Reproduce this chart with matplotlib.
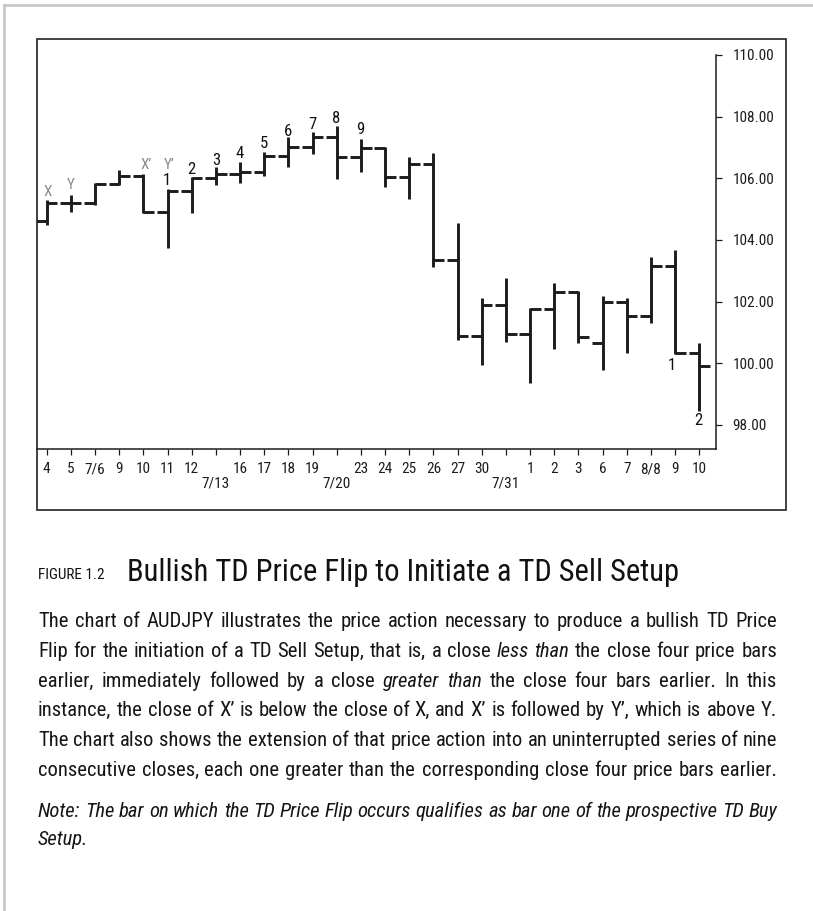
import matplotlib
matplotlib.use("Agg")
import matplotlib.pyplot as plt
from matplotlib import font_manager as fm
from matplotlib.lines import Line2D
from matplotlib.patches import Rectangle
import numpy as np

# ---------------- data ----------------
dates = ["4", "5", "7/6", "9", "10", "11", "12", "7/13", "16", "17", "18", "19",
         "7/20", "23", "24", "25", "26", "27", "30", "7/31", "1", "2", "3", "6",
         "7", "8/8", "9", "10"]
lower_row = ["7/13", "7/20", "7/31"]

opens = [104.60, 105.19, 105.19, 105.82, 106.09, 104.92, 105.60, 106.00, 106.14,
         106.21, 106.72, 107.03, 107.33, 106.70, 106.97, 106.03, 106.45, 103.35,
         100.88, 101.89, 100.95, 101.75, 102.32, 100.67, 102.00, 101.53, 103.16,
         100.34]
highs = [105.30, 105.46, 105.84, 106.27, 106.14, 105.64, 106.05, 106.38, 106.54,
         106.86, 107.33, 107.51, 107.70, 107.27, 107.01, 106.70, 106.81, 104.56,
         102.11, 102.76, 101.78, 102.59, 102.36, 102.18, 102.11, 103.44, 103.68,
         100.67]
lows = [104.49, 104.92, 105.13, 105.78, 104.89, 103.73, 104.89, 105.78, 105.86,
        106.09, 106.36, 106.79, 105.97, 106.22, 105.71, 105.32, 103.11, 100.76,
        99.94, 100.70, 99.37, 100.45, 100.65, 99.78, 100.34, 101.30, 100.30,
        98.46]
closes = [105.19, 105.19, 105.82, 106.09, 104.92, 105.60, 106.02, 106.14, 106.21,
          106.72, 107.03, 107.33, 106.70, 106.97, 106.03, 106.45, 103.35, 100.88,
          101.89, 100.95, 101.75, 102.32, 100.86, 102.00, 101.53, 103.16, 100.34,
          99.91]

yticks = [98, 100, 102, 104, 106, 108, 110]

ann_text = ["X", "Y", "X’", "Y’", "1", "2", "3", "4", "5", "6", "7", "8", "9", "1", "2"]
ann_x = [0.04, 1.0, 4.1, 5.07, 4.96, 6.0, 7.0, 7.97, 8.99, 10.0, 11.0, 11.97, 12.99, 25.86, 26.96]
ann_y = [105.57, 105.78, 106.43, 106.43, 105.92, 106.27, 106.59, 106.79, 107.14,
         107.51, 107.75, 107.95, 107.57, 99.93, 98.16]
ann_gray = [True, True, True, True] + [False] * 11

fig_label = "FIGURE 1.2"
fig_title = "Bullish TD Price Flip to Initiate a TD Sell Setup"
body_lines = [
    "The chart of AUDJPY illustrates the price action necessary to produce a bullish TD Price",
    "Flip for the initiation of a TD Sell Setup, that is, a close _less _than the close four price bars",
    "earlier, immediately followed by a close _greater _than the close four bars earlier. In this",
    "instance, the close of X’ is below the close of X, and X’ is followed by Y’, which is above Y.",
    "The chart also shows the extension of that price action into an uninterrupted series of nine",
    "consecutive closes, each one greater than the corresponding close four price bars earlier.",
]
note_lines = [
    "Note: The bar on which the TD Price Flip occurs qualifies as bar one of the prospective TD Buy",
    "Setup.",
]

# ---------------- fonts ----------------
entries = fm.fontManager.ttflist
names = {f.name for f in entries}
font_kw = {"family": "Liberation Sans"}
for cand in ["Liberation Sans Narrow", "Arial Narrow", "Roboto Condensed",
             "Noto Sans Condensed", "Open Sans Condensed"]:
    if cand in names:
        font_kw = {"family": cand}
        break
else:
    if any(f.name == "DejaVu Sans" and "Condensed" in f.fname and "Bold" not in f.fname
           and "Oblique" not in f.fname for f in entries):
        font_kw = {"family": "DejaVu Sans", "stretch": "condensed"}
plt.rcParams["font.family"] = font_kw["family"]
if "stretch" in font_kw:
    plt.rcParams["font.stretch"] = font_kw["stretch"]

W, H = 813, 911
fig = plt.figure(figsize=(W / 100, H / 100), dpi=100)
fig.patch.set_facecolor("white")


def fx(x):
    return x / W


def fy(y):
    return 1 - y / H


ink = "#1c1c1c"

# page border (light gray) and chart frame
fig.add_artist(Line2D([fx(4), fx(W)], [fy(4.5), fy(4.5)], color="#c6c6c6", lw=1.9,
                      transform=fig.transFigure))
fig.add_artist(Line2D([fx(4), fx(4)], [fy(4.5), fy(H)], color="#c6c6c6", lw=1.9,
                      transform=fig.transFigure))
fig.add_artist(Rectangle((fx(37), fy(510)), fx(786) - fx(37), fy(39) - fy(510),
                         fill=False, ec="#222222", lw=1.2, transform=fig.transFigure))

# ---------------- chart ----------------
ax = fig.add_axes([fx(37), fy(449), fx(716) - fx(37), fy(55) - fy(449)])
ax.set_xlim(-0.40, 27.69)
ax.set_ylim(97.22, 110)
ax.set_facecolor("none")

x = np.arange(len(dates))
tick_len = 0.44
ax.vlines(x, lows, highs, color=ink, lw=2.1, capstyle="butt")
ax.hlines(opens, x - tick_len, x, color=ink, lw=2.1, capstyle="butt")
ax.hlines(closes, x, x + tick_len, color=ink, lw=2.1, capstyle="butt")

for t, xx, yy, g in zip(ann_text, ann_x, ann_y, ann_gray):
    ax.text(xx, yy, t, ha="center", va="center",
            fontsize=11 if g else 12,
            color="#8a8a8a" if g else "#111111")

for s in ["top", "left"]:
    ax.spines[s].set_visible(False)
for s in ["right", "bottom"]:
    ax.spines[s].set_color(ink)
    ax.spines[s].set_linewidth(1.1)

ax.yaxis.tick_right()
ax.set_yticks(yticks)
ax.set_yticklabels([f"{v:.2f}" for v in yticks])
ax.tick_params(axis="y", direction="out", length=4.5, width=0.9, pad=7.5,
               labelsize=11, colors=ink)

ax.set_xticks(x)
ax.set_xticklabels([("\n" + d) if d in lower_row else d for d in dates],
                   linespacing=1.05)
ax.tick_params(axis="x", direction="out", length=4.5, width=0.9, pad=5,
               labelsize=11, colors=ink)

# ---------------- caption ----------------
renderer = fig.canvas.get_renderer()


def measure(s, size, style="normal"):
    t = fig.text(0, 0, s, fontsize=size, style=style)
    w = t.get_window_extent(renderer).width
    t.remove()
    return w


def fit_size(s, base, width):
    w = measure(s, base)
    return base if w <= width else base * width / w


# figure label + title
lab_size = fit_size(fig_label, 12, 66)
fig.text(fx(38), fy(579), fig_label, fontsize=lab_size, color="#111111",
         ha="left", va="baseline")
tit_size = fit_size(fig_title, 22, 594)
fig.text(fx(127), fy(581), fig_title, fontsize=tit_size, color="#111111",
         ha="left", va="baseline")

X0, X1 = 38, 777


def parse(line, all_italic=False):
    out = []
    for w in line.split(" "):
        if w.startswith("_"):
            out.append((w[1:], "italic"))
        else:
            out.append((w, "italic" if all_italic else "normal"))
    return out


parsed = [parse(l) for l in body_lines] + [parse(l, True) for l in note_lines]

# choose body size so every justified line fits
body_size = 15.5
need = []
for words in parsed[:-1]:
    ws = sum(measure(w, body_size, st) for w, st in words)
    sp = measure("n", body_size) * 0.45 * (len(words) - 1)
    need.append((ws + sp) / (X1 - X0))
body_size = body_size / max(1.0, max(need))

baselines = [627, 657, 687, 716, 746, 776, 817, 845]
for i, (words, yb) in enumerate(zip(parsed, baselines)):
    widths = [measure(w, body_size, st) for w, st in words]
    justify = i != len(parsed) - 1
    if justify and len(words) > 1:
        gap = (X1 - X0 - sum(widths)) / (len(words) - 1)
    else:
        gap = measure("n", body_size) * 0.45
    xpos = X0
    for (w, st), wd in zip(words, widths):
        fig.text(fx(xpos), fy(yb), w, fontsize=body_size, style=st,
                 color="#161616", ha="left", va="baseline")
        xpos += wd + gap

fig.savefig("out.png", dpi=100, facecolor="white")
